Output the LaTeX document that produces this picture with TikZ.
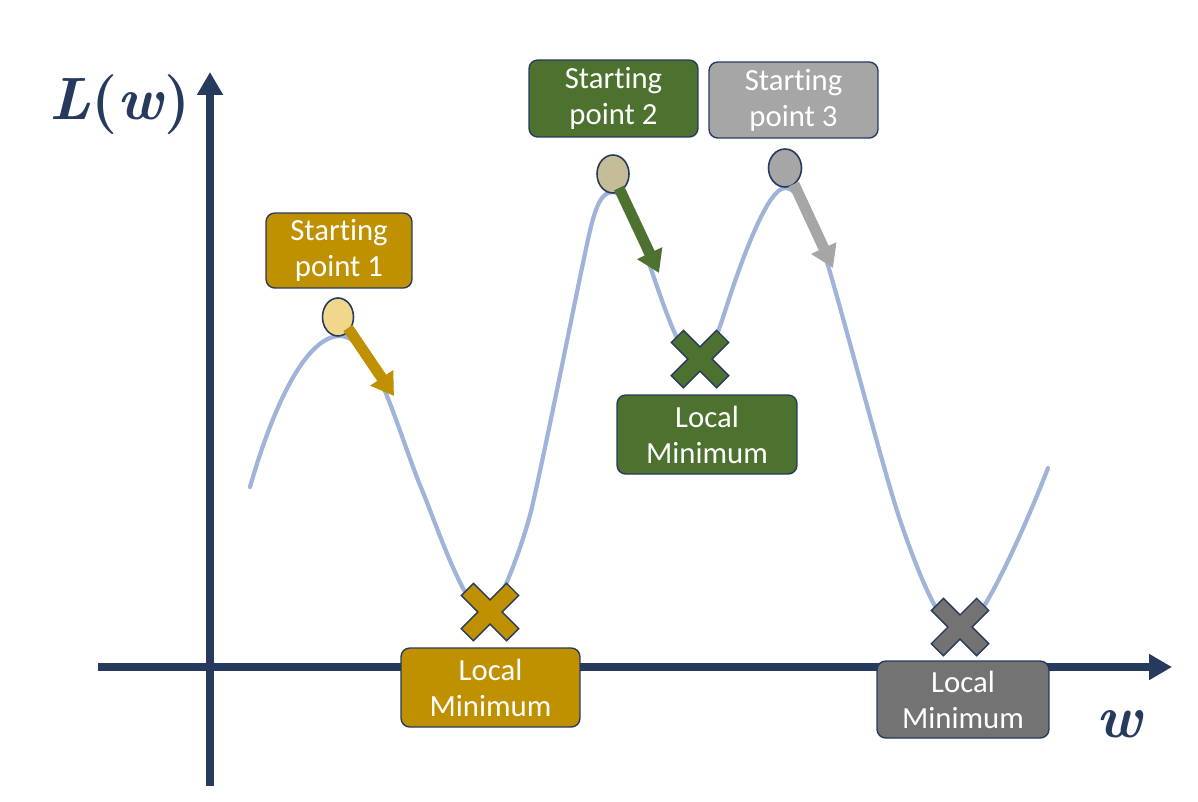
\documentclass[tikz,border=0pt]{standalone}
\usepackage{fontspec}
\newfontfamily\carl[Ligatures=NoCommon]{Carlito}
\usetikzlibrary{arrows.meta,shapes.geometric}
\definecolor{navy}{HTML}{263A5E}
\definecolor{gold}{HTML}{BF9000}
\definecolor{dgreen}{HTML}{4D722F}
\definecolor{lgrey}{HTML}{A6A6A6}
\definecolor{dgrey}{HTML}{737373}
\definecolor{curvec}{HTML}{A0B3D8}
\definecolor{pale}{HTML}{F0D78C}
\definecolor{khaki}{HTML}{C4BD97}
\tikzset{
  axis/.style={draw=navy, line width=4.5pt, -{Triangle[width=14pt,length=13pt]}},
  box/.style={draw=navy, line width=0.8pt, rounded corners=5pt, inner sep=0pt,
    text=white, align=center, font=\carl\fontsize{17.5}{20.5}\selectfont},
  startpt/.style={ellipse, draw=navy, line width=0.9pt, inner sep=0pt,
    minimum width=0.64cm, minimum height=0.76cm},
  grad/.style={line width=6.2pt, -{Triangle[width=15pt,length=12.5pt]}},
  xshape/.style={draw=navy, line width=0.8pt},
  mathlab/.style={text=navy, font=\bfseries\fontsize{34}{40}\selectfont}
}
\begin{document}
\begin{tikzpicture}[x=0.02cm,y=-0.02cm]
\useasboundingbox (0,0) rectangle (1198,802);
% axes
\coordinate (ybot) at (210,786);
\coordinate (ytop) at (210,72);
\coordinate (xleft) at (98,667);
\coordinate (xright) at (1172,667);
\draw[axis] (ybot) -- (ytop);
\draw[axis] (xleft) -- (xright);
\node[mathlab] (ylab) at (120,105) {\textit{L}(\textit{w})};
\node[mathlab] (xlab) at (1120,724) {\textit{w}};
% loss curve
\draw[curvec, line width=2.4pt, line cap=round]
  (250,487) .. controls (272,410) and (305,336) .. (340,336)
  .. controls (375,336) and (397,430) .. (422,490)
  .. controls (437,526) and (466,614) .. (486,614)
  .. controls (498,614) and (525,539) .. (533,503)
  .. controls (549,431) and (567,340) .. (583,263)
  .. controls (593,215) and (598,192) .. (613,192)
  .. controls (628,192) and (642,244) .. (652,272)
  .. controls (663,303) and (682,364) .. (699,364)
  .. controls (710,364) and (723,316) .. (733,287)
  .. controls (743,258) and (768,188) .. (785,188)
  .. controls (800,188) and (815,222) .. (827,262)
  .. controls (845,322) and (885,476) .. (900,520)
  .. controls (915,564) and (940,632) .. (960,632)
  .. controls (980,632) and (1030,515) .. (1048,468);
% boxes
\node[box, fill=gold, minimum width=2.92cm, minimum height=1.5cm] (sp1) at (339,250.5) {Starting\\point 1};
\node[box, fill=dgreen, minimum width=3.38cm, minimum height=1.54cm] (sp2) at (613.5,98.5) {Starting\\point 2};
\node[box, fill=lgrey, minimum width=3.38cm, minimum height=1.52cm] (sp3) at (793.5,100) {Starting\\point 3};
\node[box, fill=gold, minimum width=3.58cm, minimum height=1.58cm] (lm1) at (490.5,687.5) {Local\\Minimum};
\node[box, fill=dgreen, minimum width=3.6cm, minimum height=1.58cm] (lm2) at (707,434.5) {Local\\Minimum};
\node[box, fill=dgrey, minimum width=3.44cm, minimum height=1.54cm] (lm3) at (963,699.5) {Local\\Minimum};
% X marks
\foreach \cx/\cy/\cc in {490/612/gold, 700/359/dgreen, 960/627/dgrey}{
  \draw[xshape, fill=\cc, shift={(\cx,\cy)}, rotate=45]
   (32,8.5) -- (8.5,8.5) -- (8.5,32) -- (-8.5,32) -- (-8.5,8.5) -- (-32,8.5) --
   (-32,-8.5) -- (-8.5,-8.5) -- (-8.5,-32) -- (8.5,-32) -- (8.5,-8.5) -- (32,-8.5) -- cycle;
}
% starting points
\node[startpt, fill=pale, minimum width=0.62cm] (s1) at (338,317) {};
\node[startpt, fill=khaki] (s2) at (613,174) {};
\node[startpt, fill=lgrey, minimum width=0.66cm] (s3) at (785,168) {};
% gradient arrows
\coordinate (g1s) at (348,328);
\coordinate (g1e) at (394,396);
\coordinate (g2s) at (619,188);
\coordinate (g2e) at (659,273);
\coordinate (g3s) at (794,184);
\coordinate (g3e) at (833,268);
\draw[grad, gold] (g1s) -- (g1e);
\draw[grad, dgreen] (g2s) -- (g2e);
\draw[grad, lgrey] (g3s) -- (g3e);
\end{tikzpicture}
\end{document}
